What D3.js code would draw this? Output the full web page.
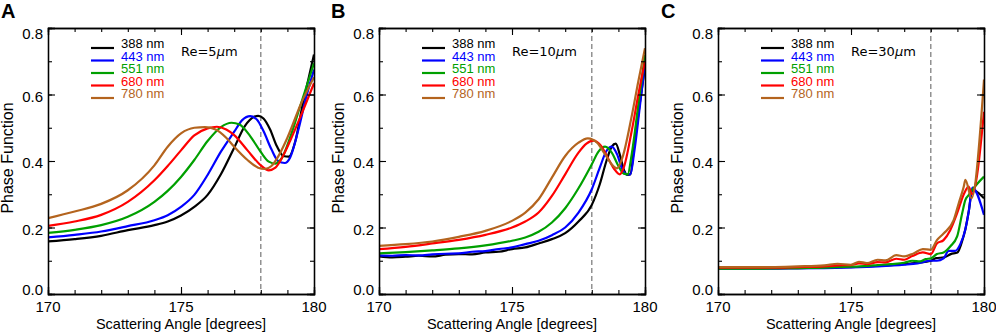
<!DOCTYPE html>
<html>
<head>
<meta charset="utf-8">
<script src="https://cdn.jsdelivr.net/npm/d3@7"></script>
<style>
  html, body { margin: 0; padding: 0; background: #fff; }
  svg { display: block; }
</style>
</head>
<body>
<svg id="chart" width="996" height="333"></svg>
<script>
// ---------------- data ----------------
const panelLabels = ["A", "B", "C"];
const radiusLabels = ["5", "10", "30"];
const wavelengths = ["388 nm", "443 nm", "551 nm", "680 nm", "780 nm"];
const xTicks = [170, 175, 180];
const yTicks = [0.0, 0.2, 0.4, 0.6, 0.8];
const backscatterLine = 178;

// Panel A, Re = 5 um   [scattering angle, phase function]
const A388 = [[170,0.158],[171,0.165],[172,0.175],[173,0.192],[174,0.207],[174.5,0.218],[175,0.236],[175.5,0.262],[176,0.298],[176.5,0.36],[177,0.44],[177.4,0.505],[177.75,0.533],[177.9,0.536],[178.1,0.528],[178.35,0.495],[178.6,0.445],[178.85,0.415],[179.05,0.413],[179.3,0.46],[179.55,0.56],[179.8,0.65],[180,0.72]];
const A443 = [[170,0.170],[171,0.178],[172,0.188],[173,0.204],[174,0.222],[174.5,0.237],[175,0.262],[175.5,0.298],[176,0.358],[176.5,0.428],[177,0.488],[177.3,0.523],[177.6,0.535],[177.85,0.525],[178.1,0.49],[178.4,0.435],[178.65,0.40],[178.9,0.394],[179.1,0.41],[179.4,0.49],[179.7,0.59],[180,0.675]];
const A551 = [[170,0.184],[171,0.193],[172,0.207],[173,0.232],[174,0.277],[174.5,0.31],[175,0.352],[175.5,0.403],[176,0.46],[176.5,0.502],[176.9,0.515],[177.2,0.51],[177.6,0.475],[178,0.427],[178.3,0.398],[178.55,0.392],[178.8,0.41],[179.1,0.47],[179.5,0.57],[180,0.694]];
const A680 = [[170,0.205],[171,0.218],[172,0.238],[173,0.277],[174,0.342],[174.5,0.385],[175,0.432],[175.5,0.477],[176,0.498],[176.35,0.503],[176.7,0.495],[177,0.478],[177.5,0.432],[178,0.387],[178.3,0.372],[178.55,0.38],[178.8,0.41],[179.1,0.46],[179.5,0.535],[180,0.634]];
const A780 = [[170,0.228],[171,0.248],[172,0.271],[173,0.312],[174,0.387],[174.5,0.443],[175,0.483],[175.5,0.5],[175.9,0.502],[176.3,0.495],[176.7,0.47],[177,0.443],[177.5,0.403],[177.9,0.38],[178.15,0.376],[178.4,0.385],[178.7,0.42],[179,0.47],[179.5,0.57],[180,0.652]];

// Panel B, Re = 10 um
const B388 = [[170,0.113],[170.5,0.110],[171,0.112],[171.5,0.115],[172,0.113],[172.5,0.118],[173,0.120],[173.5,0.119],[174,0.125],[174.5,0.127],[175,0.135],[175.5,0.14],[176,0.152],[176.5,0.165],[177,0.183],[177.5,0.218],[178,0.268],[178.3,0.33],[178.55,0.40],[178.75,0.443],[178.9,0.452],[179.05,0.42],[179.2,0.375],[179.35,0.358],[179.45,0.36],[179.6,0.45],[179.8,0.57],[180,0.684]];
const B443 = [[170,0.116],[170.5,0.115],[171,0.117],[171.5,0.116],[172,0.119],[172.5,0.121],[173,0.122],[173.5,0.127],[174,0.129],[174.5,0.135],[175,0.140],[175.5,0.150],[176,0.160],[176.5,0.177],[177,0.2],[177.5,0.245],[178,0.315],[178.3,0.38],[178.55,0.43],[178.75,0.443],[178.95,0.42],[179.15,0.375],[179.3,0.36],[179.45,0.36],[179.6,0.43],[179.8,0.56],[180,0.695]];
const B551 = [[170,0.122],[171,0.126],[172,0.131],[173,0.137],[174,0.146],[175,0.16],[175.5,0.17],[176,0.187],[176.5,0.215],[177,0.258],[177.5,0.318],[178,0.39],[178.25,0.428],[178.5,0.443],[178.75,0.425],[179,0.385],[179.2,0.362],[179.35,0.36],[179.5,0.42],[179.75,0.57],[180,0.719]];
const B680 = [[170,0.135],[171,0.142],[172,0.152],[173,0.163],[174,0.178],[175,0.2],[175.5,0.218],[176,0.245],[176.5,0.295],[177,0.36],[177.5,0.425],[177.8,0.452],[178.05,0.461],[178.35,0.445],[178.6,0.41],[178.85,0.375],[179.05,0.36],[179.2,0.38],[179.5,0.49],[179.75,0.6],[180,0.70]];
const B780 = [[170,0.145],[171,0.150],[172,0.158],[173,0.172],[174,0.19],[175,0.22],[175.5,0.245],[176,0.285],[176.5,0.35],[177,0.415],[177.5,0.455],[177.85,0.468],[178.2,0.455],[178.5,0.42],[178.75,0.39],[178.95,0.378],[179.15,0.41],[179.5,0.535],[179.75,0.64],[180,0.739]];

// Panel C, Re = 30 um
const C388 = [[170,0.077],[171,0.077],[172,0.077],[173,0.078],[174,0.079],[175,0.081],[175.5,0.082],[176,0.085],[176.5,0.087],[177,0.09],[177.5,0.094],[178,0.1],[178.2,0.108],[178.5,0.11],[178.75,0.12],[179,0.125],[179.18,0.16],[179.3,0.195],[179.43,0.25],[179.56,0.313],[180,0.288]];
const C443 = [[170,0.077],[172,0.077],[174,0.078],[175,0.08],[176,0.083],[177,0.088],[177.5,0.092],[178,0.1],[178.23,0.1],[178.48,0.107],[178.67,0.13],[178.92,0.13],[179.11,0.15],[179.3,0.195],[179.43,0.25],[179.56,0.32],[180,0.238]];
const C551 = [[170,0.076],[171,0.076],[172,0.077],[173,0.078],[174,0.079],[175,0.082],[175.5,0.084],[176,0.087],[176.5,0.09],[177,0.094],[177.3,0.1],[177.6,0.098],[177.8,0.105],[178,0.107],[178.23,0.12],[178.48,0.125],[178.73,0.143],[178.99,0.173],[179.18,0.243],[179.3,0.283],[179.43,0.298],[179.56,0.313],[180,0.353]];
const C680 = [[170,0.079],[171,0.079],[172,0.079],[173,0.081],[174,0.083],[174.5,0.086],[175,0.087],[175.3,0.092],[175.6,0.09],[176,0.096],[176.3,0.095],[176.7,0.106],[177,0.103],[177.3,0.114],[177.7,0.125],[178,0.12],[178.23,0.152],[178.48,0.162],[178.73,0.192],[178.99,0.243],[179.24,0.30],[179.42,0.323],[179.55,0.30],[180,0.548]];
const C780 = [[170,0.081],[171,0.081],[172,0.081],[173,0.083],[174,0.086],[174.5,0.091],[175,0.088],[175.3,0.097],[175.6,0.093],[176,0.103],[176.3,0.101],[176.7,0.117],[177,0.113],[177.35,0.122],[177.7,0.135],[178,0.133],[178.23,0.162],[178.48,0.182],[178.86,0.222],[179.05,0.273],[179.24,0.323],[179.3,0.343],[179.53,0.288],[180,0.645]];

const panelSeries = [
  [A388, A443, A551, A680, A780],
  [B388, B443, B551, B680, B780],
  [C388, C443, C551, C680, C780]
];

// ---------------- styles / layout ----------------
const colors = ["#000000", "#0000ff", "#00a000", "#ff0000", "#b4641e"];
const panelLeft = [48, 379, 718];
const plotW = 266, plotTop = 28, plotBottom = 294;
const fontMain = "'Liberation Sans', Arial, Helvetica, sans-serif";

const svg = d3.select("#chart");

panelLabels.forEach((lab, p) => {
  const left = panelLeft[p];
  const x = d3.scaleLinear().domain([170, 180]).range([left, left + plotW]);
  const y = d3.scaleLinear().domain([0, 0.8]).range([plotBottom, plotTop]);
  const g = svg.append("g");

  const clipId = "clip" + p;
  svg.append("clipPath").attr("id", clipId)
    .append("rect").attr("x", left).attr("y", plotTop)
    .attr("width", plotW).attr("height", plotBottom - plotTop);

  // dashed reference line
  g.append("line")
    .attr("x1", x(backscatterLine)).attr("x2", x(backscatterLine))
    .attr("y1", plotTop).attr("y2", plotBottom)
    .attr("stroke", "#808080").attr("stroke-width", 1.3)
    .attr("stroke-dasharray", "5,3");

  // curves
  const line = d3.line().x(d => x(d[0])).y(d => y(d[1])).curve(d3.curveMonotoneX);
  const cg = g.append("g").attr("clip-path", `url(#${clipId})`);
  panelSeries[p].forEach((s, i) => {
    cg.append("path").datum(s)
      .attr("d", line)
      .attr("fill", "none")
      .attr("stroke", colors[i])
      .attr("stroke-width", 2.2)
      .attr("stroke-linejoin", "round");
  });

  // axes with inward ticks on all four sides
  const xMinor = d3.range(170, 181, 1);
  const yMinor = d3.range(0, 9).map(v => v / 10);
  const axB = d3.axisBottom(x).tickValues(xMinor).tickSize(-4).tickFormat("");
  const axBM = d3.axisBottom(x).tickValues(xTicks).tickSize(-7).tickFormat("");
  const axT = d3.axisTop(x).tickValues(xMinor).tickSize(-4).tickFormat("");
  const axTM = d3.axisTop(x).tickValues(xTicks).tickSize(-7).tickFormat("");
  const axL = d3.axisLeft(y).tickValues(yMinor).tickSize(-4).tickFormat("");
  const axLM = d3.axisLeft(y).tickValues(yTicks).tickSize(-7).tickFormat("");
  const axR = d3.axisRight(y).tickValues(yMinor).tickSize(-4).tickFormat("");
  const axRM = d3.axisRight(y).tickValues(yTicks).tickSize(-7).tickFormat("");
  [[axB, `translate(0,${plotBottom})`], [axBM, `translate(0,${plotBottom})`],
   [axT, `translate(0,${plotTop})`], [axTM, `translate(0,${plotTop})`],
   [axL, `translate(${left},0)`], [axLM, `translate(${left},0)`],
   [axR, `translate(${left + plotW},0)`], [axRM, `translate(${left + plotW},0)`]].forEach(([ax, tr]) => {
    const a = g.append("g").attr("transform", tr).call(ax);
    a.select(".domain").attr("stroke", "#000").attr("stroke-width", 1.3);
    a.selectAll(".tick line").attr("stroke", "#000").attr("stroke-width", 1.1);
  });

  // tick labels
  g.selectAll(".xlab").data(xTicks).enter().append("text")
    .attr("x", d => x(d)).attr("y", 312)
    .attr("text-anchor", "middle")
    .attr("font-family", fontMain).attr("font-size", 15)
    .text(d => d);
  g.selectAll(".ylab").data(yTicks).enter().append("text")
    .attr("x", left - 5)
    .attr("y", (d, i) => y(d) + 7 + (i === 0 ? -6 : 0) + (i === yTicks.length - 1 ? 4 : 0))
    .attr("text-anchor", "end")
    .attr("font-family", fontMain).attr("font-size", 15)
    .text(d => d3.format(".1f")(d));

  // axis titles
  g.append("text")
    .attr("x", left + plotW / 2).attr("y", 329)
    .attr("text-anchor", "middle")
    .attr("font-family", fontMain).attr("font-size", 14.5)
    .text("Scattering Angle [degrees]");
  g.append("text")
    .attr("transform", `translate(${left - 35},${(plotTop + plotBottom) / 2 - 3}) rotate(-90)`)
    .attr("text-anchor", "middle")
    .attr("font-family", fontMain).attr("font-size", 16)
    .text("Phase Function");

  // panel letter
  svg.append("text")
    .attr("x", [1, 331, 661][p]).attr("y", 18)
    .attr("font-family", fontMain).attr("font-size", 20).attr("font-weight", "bold")
    .text(lab);

  // legend
  wavelengths.forEach((w, i) => {
    const ly = 48 + i * 12.5;
    g.append("line")
      .attr("x1", left + 43).attr("x2", left + 66)
      .attr("y1", ly).attr("y2", ly)
      .attr("stroke", colors[i]).attr("stroke-width", 2.2);
    g.append("text")
      .attr("x", left + 73).attr("y", ly)
      .attr("font-family", fontMain).attr("font-size", 13)
      .attr("fill", colors[i])
      .text(w);
  });

  // radius annotation
  const t = g.append("text")
    .attr("x", left + 133).attr("y", 56)
    .attr("font-family", "'DejaVu Sans', sans-serif").attr("font-size", 13)
    .attr("fill", "#000");
  t.append("tspan").text("Re=" + radiusLabels[p]);
  t.append("tspan").attr("font-style", "italic").text("\u03bc");
  t.append("tspan").text("m");
});
</script>
</body>
</html>
